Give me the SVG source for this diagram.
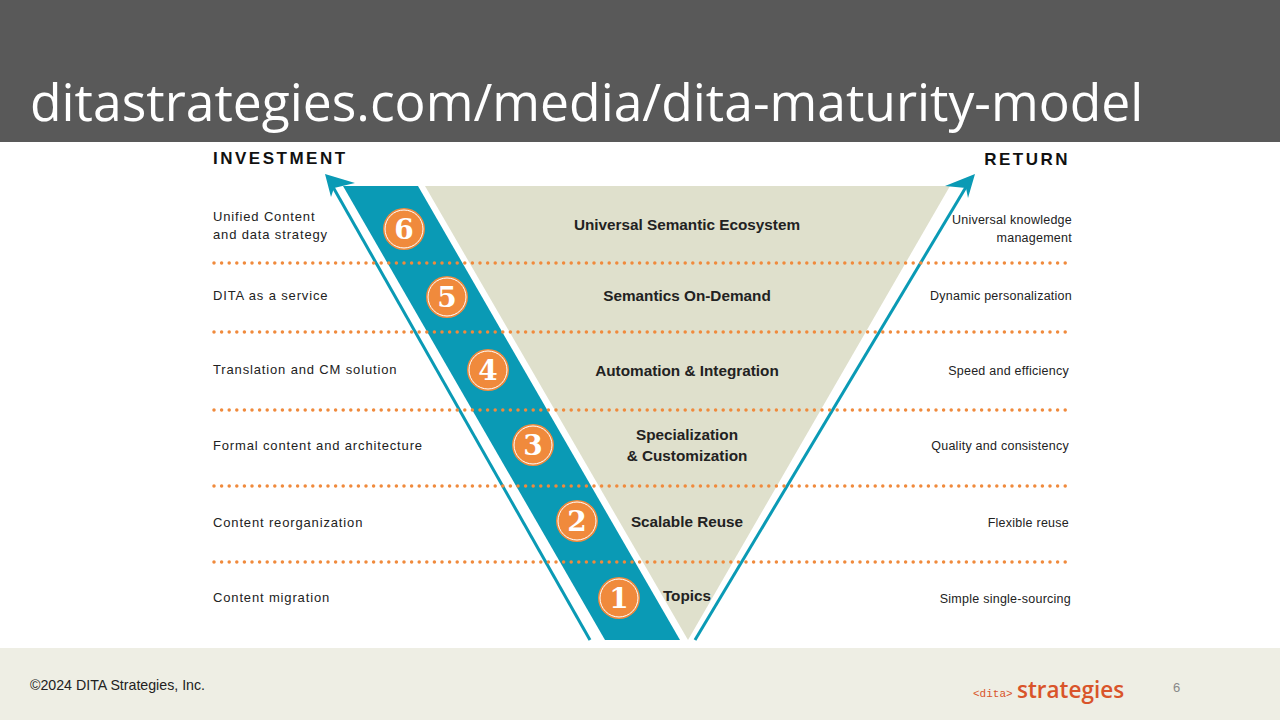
<svg xmlns="http://www.w3.org/2000/svg" width="1280" height="720" viewBox="0 0 1280 720">
<style>
.l{font-family:"Liberation Sans",Arial,sans-serif;font-size:13px;fill:#222;letter-spacing:0.85px}
.r{font-family:"Liberation Sans",Arial,sans-serif;font-size:12.5px;fill:#222;text-anchor:end;letter-spacing:0.25px}
.c{font-family:"Liberation Sans",Arial,sans-serif;font-size:15.3px;font-weight:bold;fill:#222;text-anchor:middle}
.h{font-family:"Liberation Sans",Arial,sans-serif;font-size:17px;font-weight:bold;fill:#111;letter-spacing:2.5px}
.dot{stroke:#f08a3c;stroke-width:3.5;stroke-linecap:round;stroke-dasharray:0 7.6}
.n{font-family:"DejaVu Serif",serif;font-size:28px;font-weight:bold;fill:#fff;text-anchor:middle}
</style>
<rect width="1280" height="720" fill="#fff"/>
<rect width="1280" height="142" fill="#595959"/>
<text x="30" y="121" font-family="Open Sans,Liberation Sans,sans-serif" font-size="51.6" fill="#fff">ditastrategies.com/media/dita-maturity-model</text>
<rect y="648" width="1280" height="72" fill="#eeeee4"/>
<text x="30" y="690" font-family="Liberation Sans,Arial,sans-serif" font-size="14.2" fill="#222">©2024 DITA Strategies, Inc.</text>
<text x="973" y="697" font-family="Liberation Mono,monospace" font-size="11" fill="#d9542a">&lt;dita&gt;</text>
<text x="1017" y="698" font-family="Open Sans,Liberation Sans,sans-serif" font-size="22.5" font-weight="600" fill="#d9542a">strategies</text>
<text x="1173" y="692" font-family="Liberation Sans,Arial,sans-serif" font-size="13" fill="#888">6</text>
<g id="triangle"><polygon points="425,186 950,186 688,640" fill="#dfe0cc"/></g>
<g id="band"><polygon points="343,186 418,186 680,640 605,640" fill="#0a9ab5"/></g>
<g id="connectors">
<line x1="590" y1="640" x2="333" y2="187" stroke="#0a9ab5" stroke-width="3"/>
<polygon points="325,174 355,183 334,188 331,197" fill="#0a9ab5"/>
<line x1="695" y1="640" x2="966" y2="187" stroke="#0a9ab5" stroke-width="3"/>
<polygon points="975,174 968,198 966,188 945,186" fill="#0a9ab5"/>
</g>
<g id="dots">
<line class="dot" x1="214" y1="263" x2="1068" y2="263"/>
<line class="dot" x1="214" y1="332" x2="1068" y2="332"/>
<line class="dot" x1="214" y1="410" x2="1068" y2="410"/>
<line class="dot" x1="214" y1="486" x2="1068" y2="486"/>
<line class="dot" x1="214" y1="562" x2="1068" y2="562"/>
</g>
<g id="nums">
<g id="n6"><circle cx="404" cy="229" r="21" fill="#f08a3c"/><circle cx="404" cy="229" r="19" fill="none" stroke="#fff" stroke-width="1"/><text class="n" x="404" y="239">6</text></g>
<g id="n5"><circle cx="447" cy="297" r="21" fill="#f08a3c"/><circle cx="447" cy="297" r="19" fill="none" stroke="#fff" stroke-width="1"/><text class="n" x="447" y="307">5</text></g>
<g id="n4"><circle cx="488" cy="370" r="21" fill="#f08a3c"/><circle cx="488" cy="370" r="19" fill="none" stroke="#fff" stroke-width="1"/><text class="n" x="488" y="380">4</text></g>
<g id="n3"><circle cx="533" cy="445" r="21" fill="#f08a3c"/><circle cx="533" cy="445" r="19" fill="none" stroke="#fff" stroke-width="1"/><text class="n" x="533" y="455">3</text></g>
<g id="n2"><circle cx="577" cy="521" r="21" fill="#f08a3c"/><circle cx="577" cy="521" r="19" fill="none" stroke="#fff" stroke-width="1"/><text class="n" x="577" y="531">2</text></g>
<g id="n1"><circle cx="619" cy="598" r="21" fill="#f08a3c"/><circle cx="619" cy="598" r="19" fill="none" stroke="#fff" stroke-width="1"/><text class="n" x="619" y="608">1</text></g>
</g>
<text class="h" x="213" y="164">INVESTMENT</text>
<text class="h" x="1070" y="165" text-anchor="end">RETURN</text>
<g id="left">
<text class="l" x="213" y="221">Unified Content</text>
<text class="l" x="213" y="239">and data strategy</text>
<text class="l" x="213" y="300">DITA as a service</text>
<text class="l" x="213" y="374">Translation and CM solution</text>
<text class="l" x="213" y="450">Formal content and architecture</text>
<text class="l" x="213" y="527">Content reorganization</text>
<text class="l" x="213" y="602">Content migration</text>
</g>
<g id="center">
<text class="c" x="687" y="230">Universal Semantic Ecosystem</text>
<text class="c" x="687" y="301">Semantics On-Demand</text>
<text class="c" x="687" y="376">Automation &amp; Integration</text>
<text class="c" x="687" y="440">Specialization</text>
<text class="c" x="687" y="461">&amp; Customization</text>
<text class="c" x="687" y="527">Scalable Reuse</text>
<text class="c" x="687" y="601">Topics</text>
</g>
<g id="right">
<text class="r" x="1072" y="224">Universal knowledge</text>
<text class="r" x="1072" y="242">management</text>
<text class="r" x="1072" y="300">Dynamic personalization</text>
<text class="r" x="1069" y="375">Speed and efficiency</text>
<text class="r" x="1069" y="450">Quality and consistency</text>
<text class="r" x="1069" y="527">Flexible reuse</text>
<text class="r" x="1071" y="603">Simple single-sourcing</text>
</g>
</svg>
